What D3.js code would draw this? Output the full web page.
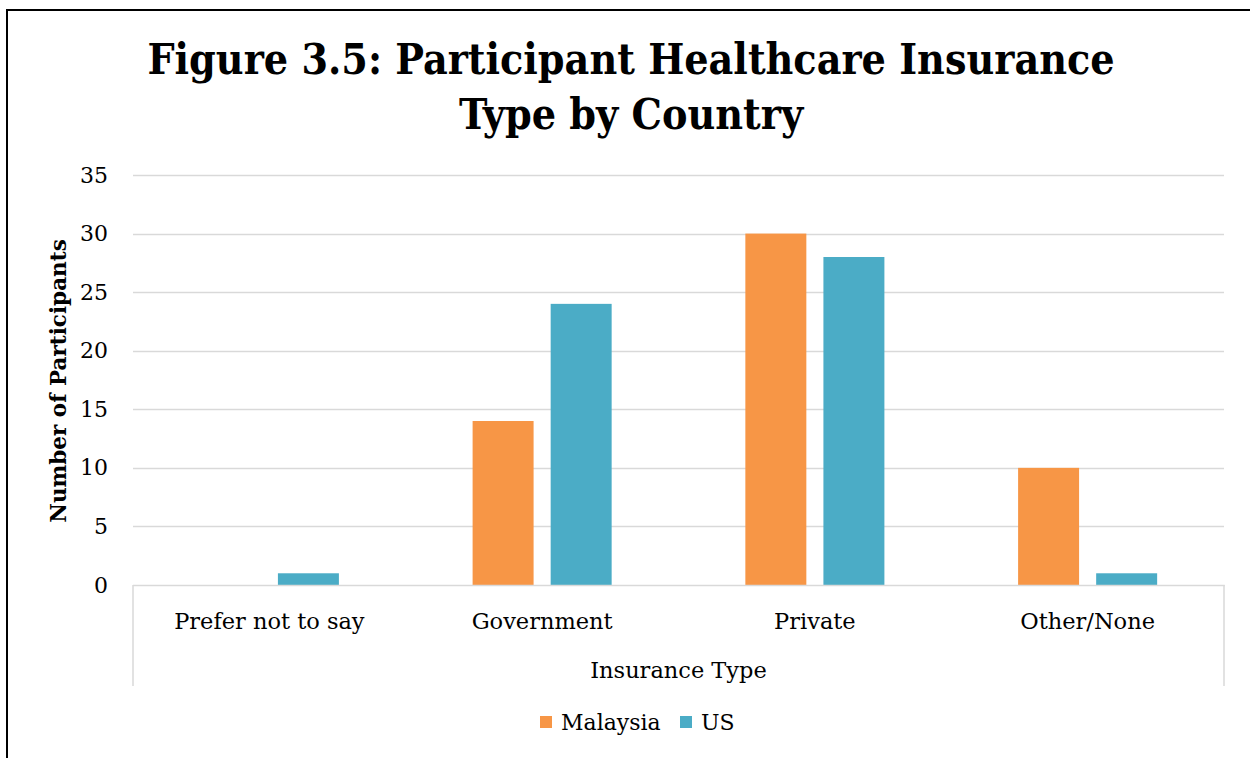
<!DOCTYPE html>
<html>
<head>
<meta charset="utf-8">
<script src="https://cdn.jsdelivr.net/npm/d3@7"></script>
<style>
  html, body { margin: 0; padding: 0; background: #fff; }
  svg { display: block; }
  text { font-family: "DejaVu Serif", "Liberation Serif", serif; fill: #000; }
  .title { font-family: "DejaVu Serif Condensed", "DejaVu Serif", serif; font-stretch: condensed; }
</style>
</head>
<body>
<svg id="chart" width="1250" height="758"></svg>
<script>
// Participant counts by insurance type and country
const categories = ["Prefer not to say", "Government", "Private", "Other/None"];
const seriesNames = ["Malaysia", "US"];
const malaysiaValues = [0, 14, 30, 10];
const usValues = [1, 24, 28, 1];
const yTicks = [0, 5, 10, 15, 20, 25, 30, 35];
const seriesColors = ["#F79646", "#4BACC6"];

const svg = d3.select("#chart");
const W = 1250, H = 758;

// outer frame (left and top edges)
svg.append("path")
  .attr("d", `M7,${H} L7,10 L${W},10`)
  .attr("fill", "none").attr("stroke", "#000").attr("stroke-width", 2);

const plot = { left: 133, right: 1224, top: 175, bottom: 585 };

const x0 = d3.scaleBand().domain(categories).range([plot.left, plot.right]).paddingInner(0).paddingOuter(0);
const y = d3.scaleLinear().domain([0, 35]).range([plot.bottom, plot.top]);

// two bars per category with a small gap between them
const barW = x0.bandwidth() * 0.2236;
const barGap = barW * 0.28;
const x1 = d3.scaleOrdinal().domain(seriesNames)
  .range([-barGap / 2 - barW, barGap / 2]);

// title
const title = svg.append("text")
  .attr("class", "title")
  .attr("text-anchor", "middle")
  .attr("font-weight", "bold").attr("font-size", 42.5);
title.append("tspan").attr("x", 631).attr("y", 74).text("Figure 3.5: Participant Healthcare Insurance");
title.append("tspan").attr("x", 631).attr("y", 129).text("Type by Country");

// gridlines
svg.append("g")
  .selectAll("line").data(yTicks.filter(d => d > 0)).join("line")
  .attr("x1", plot.left).attr("x2", plot.right)
  .attr("y1", d => Math.round(y(d)) + 0.5).attr("y2", d => Math.round(y(d)) + 0.5)
  .attr("stroke", "#d9d9d9").attr("stroke-width", 1.5);

// y axis labels
const yAxis = d3.axisLeft(y).tickValues(yTicks).tickSize(0).tickPadding(0);
const yg = svg.append("g").attr("transform", `translate(108,0)`).call(yAxis);
yg.select(".domain").remove();
yg.selectAll("text").attr("font-size", 22).attr("font-family", "DejaVu Serif").attr("fill", "#000");

// bars
const series = [malaysiaValues, usValues];
seriesNames.forEach((name, si) => {
  svg.append("g").selectAll("rect")
    .data(categories.map((c, i) => ({ c, v: series[si][i] })).filter(d => d.v > 0))
    .join("rect")
    .attr("x", d => x0(d.c) + x0.bandwidth() / 2 + x1(name))
    .attr("width", barW)
    .attr("y", d => y(d.v))
    .attr("height", d => y(0) - y(d.v))
    .attr("fill", seriesColors[si]);
});

// x axis: baseline and outer level box edges
const axisG = svg.append("g").attr("stroke", "#d9d9d9").attr("stroke-width", 1.5);
axisG.append("line").attr("x1", plot.left).attr("x2", plot.right + 0.75)
  .attr("y1", plot.bottom + 0.5).attr("y2", plot.bottom + 0.5);
axisG.append("line").attr("x1", plot.left).attr("x2", plot.left)
  .attr("y1", plot.bottom).attr("y2", 686);
axisG.append("line").attr("x1", plot.right).attr("x2", plot.right)
  .attr("y1", plot.bottom).attr("y2", 686);

// category labels
const xAxis = d3.axisBottom(x0).tickSize(0).tickPadding(0);
const xg = svg.append("g").attr("transform", `translate(0,629)`).call(xAxis);
xg.select(".domain").remove();
xg.selectAll("text").attr("font-size", 22.5).attr("font-family", "DejaVu Serif").attr("fill", "#000")
  .attr("dy", 0);

// x axis title
svg.append("text")
  .attr("x", (plot.left + plot.right) / 2).attr("y", 678)
  .attr("text-anchor", "middle").attr("font-size", 22.5)
  .text("Insurance Type");

// y axis title
svg.append("text")
  .attr("transform", `translate(66,381) rotate(-90)`)
  .attr("text-anchor", "middle").attr("font-size", 21.5).attr("font-weight", "bold")
  .text("Number of Participants");

// legend
const legend = svg.append("g");
const legendItems = [{ name: "Malaysia", x: 540 }, { name: "US", x: 680 }];
legendItems.forEach((d, i) => {
  legend.append("rect").attr("x", d.x).attr("y", 716).attr("width", 12).attr("height", 12)
    .attr("fill", seriesColors[i]);
  legend.append("text").attr("x", d.x + 21).attr("y", 730).attr("font-size", 22).text(d.name);
});
</script>
</body>
</html>
